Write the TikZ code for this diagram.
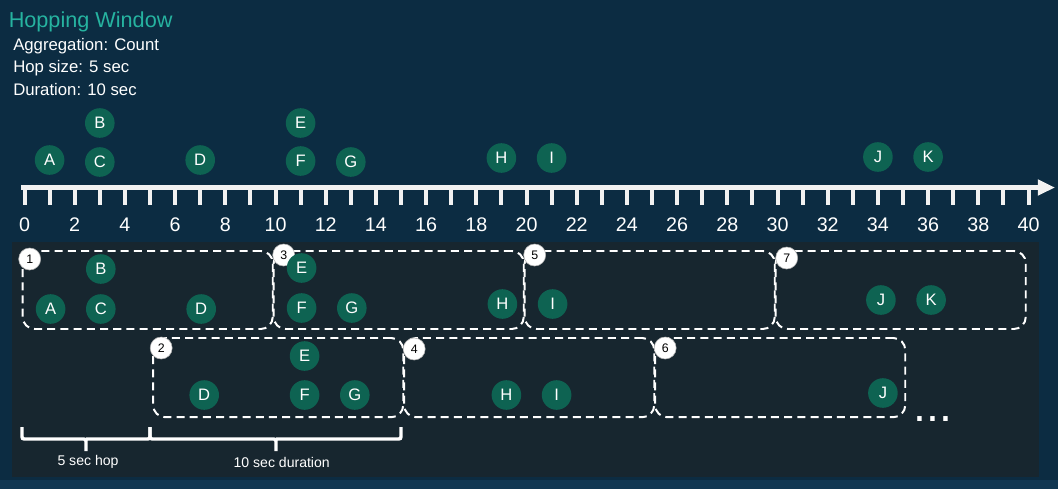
\documentclass[tikz,border=0pt]{standalone}
\usepackage{fontspec}
\setmainfont{Liberation Sans}
\usetikzlibrary{arrows.meta}
\definecolor{bgnavy}{HTML}{0C2C42}
\definecolor{bgfoot}{HTML}{113752}
\definecolor{panel}{HTML}{17262F}
\definecolor{evgreen}{HTML}{0E6352}
\definecolor{titleteal}{HTML}{26B3A0}
\definecolor{rulewhite}{HTML}{F2F2F2}
% axis origin and one second, in pixels
\def\tzero{24.5}
\def\tstep{25.1}
\begin{document}
\begin{tikzpicture}[x=0.025cm, y=-0.025cm,
  evt/.style={circle, fill=evgreen, text=white, minimum size=0.74cm, inner sep=0pt, font=\fontsize{11.8}{12}\selectfont},
  badge/.style={circle, fill=white, draw=gray!60, line width=0.4pt, text=black, minimum size=0.55cm, inner sep=0pt, font=\fontsize{8.8}{9}\selectfont},
  win/.style={draw=white, line width=1.4pt, dash pattern=on 0.2cm off 0.13cm, rounded corners=0.3cm, minimum width=6.25cm, minimum height=1.95cm, anchor=north west, inner sep=0pt},
  ticklbl/.style={text=white, font=\fontsize{14}{14}\selectfont, anchor=base, inner sep=0pt},
  note/.style={text=white, font=\fontsize{11.9}{12}\selectfont, anchor=base west, inner sep=0pt},
  bracket/.style={draw=white, line width=2.4pt, rounded corners=1.5pt},
  bracelbl/.style={text=white, font=\fontsize{10}{10}\selectfont},
]
  \useasboundingbox (0,0) rectangle (1058,489);
  % background and the darker lower panel
  \fill[bgnavy] (0,0) rectangle (1058,489);
  \fill[bgfoot] (0,480) rectangle (1058,489);
  \fill[panel] (12,242) rectangle (1039,477);
  % heading
  \node[anchor=base west, inner sep=0pt, text=titleteal, font=\fontsize{15.4}{16}\selectfont] (title) at (8.5,27) {Hopping Window};
  \node[note] (agg) at (13,50) {Aggregation: Count};
  \node[note] (hop) at (13,72.5) {Hop size: 5 sec};
  \node[note] (dur) at (13,95) {Duration: 10 sec};
  % time axis
  \coordinate (axstart) at (21,187.5);
  \coordinate (axend) at (1055,187.5);
  \draw[rulewhite, line width=3.6pt, -{Triangle[length=0.43cm, width=0.38cm]}] (axstart) -- (axend);
  \foreach \t in {0,...,40}
    \fill[rulewhite] ({\tzero+\tstep*\t-2},188) rectangle ({\tzero+\tstep*\t+2},205);
  \foreach \t in {0,2,...,40}
    \node[ticklbl] (n\t) at ({\tzero+\tstep*\t},231) {\t};
  % events on the axis
  \foreach \lbl/\t/\y in {A/1/160, B/3/123, C/3/162, D/7/160, E/11/123, F/11/161,
      G/13/162, H/19/158, I/21/158, J/34/157, K/36/157}
    \node[evt] (top\lbl) at ({\tzero+\tstep*\t},\y) {\lbl};
  % windows, first row
  \foreach \k/\t in {1/0, 3/10, 5/20, 7/30}
    \node[win] (w\k) at ({21.7+\tstep*\t},250) {};
  % windows, second row
  \foreach \k/\t in {2/5, 4/15, 6/25}
    \node[win, minimum height=1.98cm] (w\k) at ({26.7+\tstep*\t},337) {};
  % window numbers
  \foreach \k/\dx/\dy in {1/8/9, 3/11/5, 5/11/5, 7/12/8, 2/9/11, 4/11/12, 6/11/11}
    \node[badge] (b\k) at ([shift={(\dx,\dy)}]w\k.north west) {\k};
  % events in each window
  \foreach \k/\lbl/\t/\y/\dx in {1/B/3/269/1, 1/A/1/309/1, 1/C/3/309/1, 1/D/7/309/1,
      3/E/11/268/1, 3/F/11/308/1, 3/G/13/308/1,
      5/H/19/304/1, 5/I/21/304/1,
      7/J/34/300/3, 7/K/36/300/3,
      2/E/11/356/4, 2/D/7/395/4, 2/F/11/395/4, 2/G/13/395/4,
      4/H/19/395/5, 4/I/21/395/5,
      6/J/34/393/5}
    \node[evt] (e\k\lbl) at ({\tzero+\tstep*\t+\dx},\y) {\lbl};
  \node[text=white, font=\fontsize{33}{33}\selectfont, anchor=base west, inner sep=0pt] (more) at (913,421) {...};
  % braces
  \draw[bracket] (22,427) -- (22,439) -- (86,439) -- (86,451) (86,439) -- (150,439) -- (150,427);
  \draw[bracket] (150,427) -- (150,439) -- (276,439) -- (276,451) (276,439) -- (401,439) -- (401,427);
  \node[bracelbl] (hoplbl) at (88,462) {5 sec hop};
  \node[bracelbl] (durlbl) at (281.7,462) {10 sec duration};
\end{tikzpicture}
\end{document}
